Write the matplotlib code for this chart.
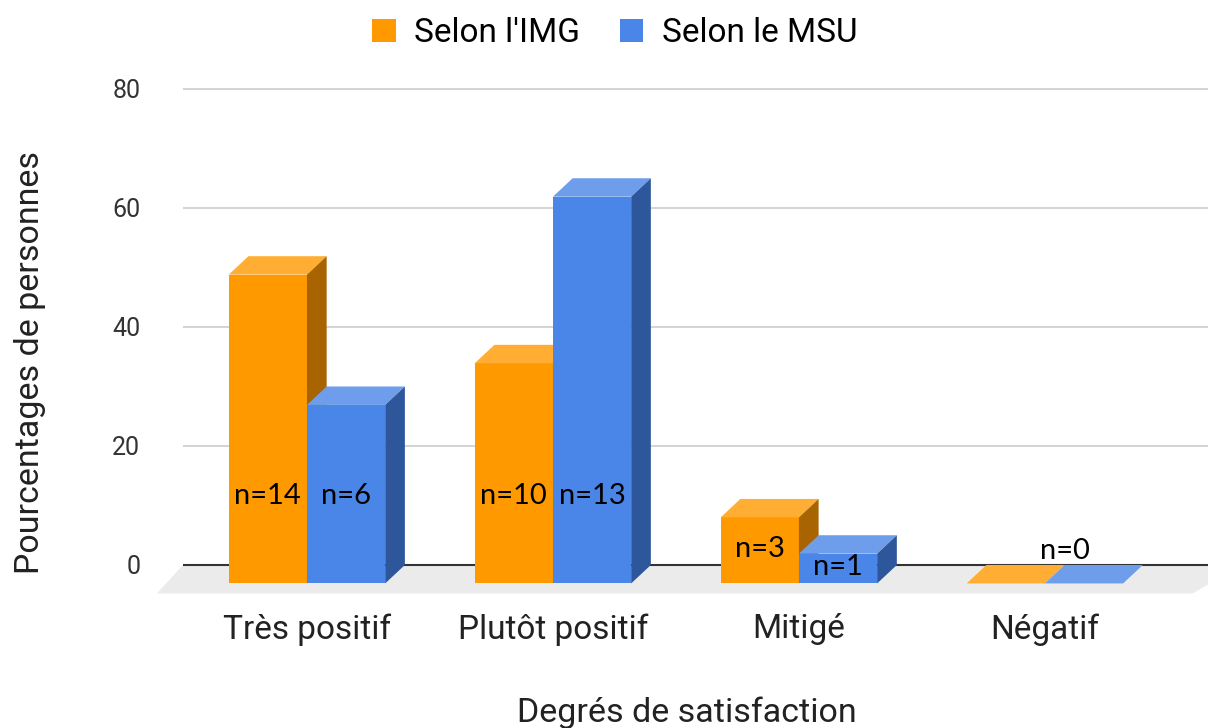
import matplotlib
matplotlib.use("Agg")
import matplotlib.pyplot as plt
from matplotlib.patches import Polygon, Patch

plt.rcParams['font.family'] = ['Roboto', 'DejaVu Sans']

# Données
categories = ["Très positif", "Plutôt positif", "Mitigé", "Négatif"]
pct_img = [51.9, 37.0, 11.1, 0.0]
pct_msu = [30.0, 65.0, 5.0, 0.0]
n_img = [14, 10, 3, 0]
n_msu = [6, 13, 1, 0]

c_img = ("#FF9900", "#FFAD33", "#A86400")   # face, dessus, côté
c_msu = ("#4A86E8", "#6E9EEB", "#2E569B")

w = 0.318      # largeur d'une barre
dx = 0.08      # profondeur 3D en x
dy = 3.1       # profondeur 3D en y

fig = plt.figure(figsize=(12.08, 7.28), dpi=100)
ax = fig.add_axes([0.1242, 0.1749, 0.8758, 0.7192])
ax.set_xlim(-0.638, 3.663)
ax.set_ylim(-6, 82)
for s in ax.spines.values():
    s.set_visible(False)

# sol gris
ax.add_patch(Polygon([(-0.61, -4.8), (-0.504, 0), (3.8, 0), (3.6, -4.8)],
                     closed=True, facecolor="#EBEBEB", edgecolor="none", zorder=0))
# grille
ax.hlines([20, 40, 60, 80], -0.504, 3.7, color="#CCCCCC", lw=1.2, zorder=1)
ax.hlines(0, -0.504, 3.7, color="#333333", lw=1.5, zorder=1)


def bar3d(x0, v, cols):
    face, top, side = cols
    ax.add_patch(Polygon([(x0, -dy), (x0 + w, -dy), (x0 + w, v - dy), (x0, v - dy)],
                         facecolor=face, edgecolor="none", zorder=3))
    ax.add_patch(Polygon([(x0, v - dy), (x0 + w, v - dy), (x0 + w + dx, v), (x0 + dx, v)],
                         facecolor=top, edgecolor="none", zorder=3))
    if v > 0:
        ax.add_patch(Polygon([(x0 + w, -dy), (x0 + w + dx, 0), (x0 + w + dx, v), (x0 + w, v - dy)],
                             facecolor=side, edgecolor="none", zorder=3))


lab_font = ["Lato", "DejaVu Sans"]
for i in range(len(categories)):
    bar3d(i - w, pct_img[i], c_img)
    bar3d(i, pct_msu[i], c_msu)
    if pct_img[i] == 0 and pct_msu[i] == 0:
        ax.text(i + 0.08, 2.4, f"n={n_img[i]}", ha="center", va="center",
                fontsize=21, family=lab_font, zorder=5)
        continue
    for xc, v, n in ((i - w / 2, pct_img[i], n_img[i]), (i + w / 2, pct_msu[i], n_msu[i])):
        y = min(11.6, (v - 2 * dy) / 2 + 0.3)
        ax.text(xc, y, f"n={n}", ha="center", va="center",
                fontsize=21, family=lab_font, zorder=5)

ax.set_yticks([0, 20, 40, 60, 80])
ax.set_yticklabels(["0", "20", "40", "60", "80"], fontsize=18, color="#333333")
ax.tick_params(axis="y", length=0, pad=7)
ax.set_xticks(range(len(categories)))
ax.set_xticklabels(categories, fontsize=24, color="#222222")
ax.tick_params(axis="x", length=0, pad=9)

fig.text(0.5685, 1 - 713 / 728, "Degrés de satisfaction", ha="center", va="center",
         fontsize=24.5, color="#222222")
fig.text(30 / 1208, 1 - 362 / 728, "Pourcentages de personnes", ha="center", va="center",
         rotation=90, fontsize=24.5, color="#222222")

handles = [Patch(facecolor=c_img[0], label="Selon l'IMG"),
           Patch(facecolor=c_msu[0], label="Selon le MSU")]
fig.legend(handles=handles, loc="center", bbox_to_anchor=(0.509, 1 - 33 / 728), ncol=2,
           frameon=False, fontsize=24, handlelength=0.7, handleheight=0.7,
           handletextpad=0.55, columnspacing=1.2)

fig.savefig("out.png", dpi=100)
